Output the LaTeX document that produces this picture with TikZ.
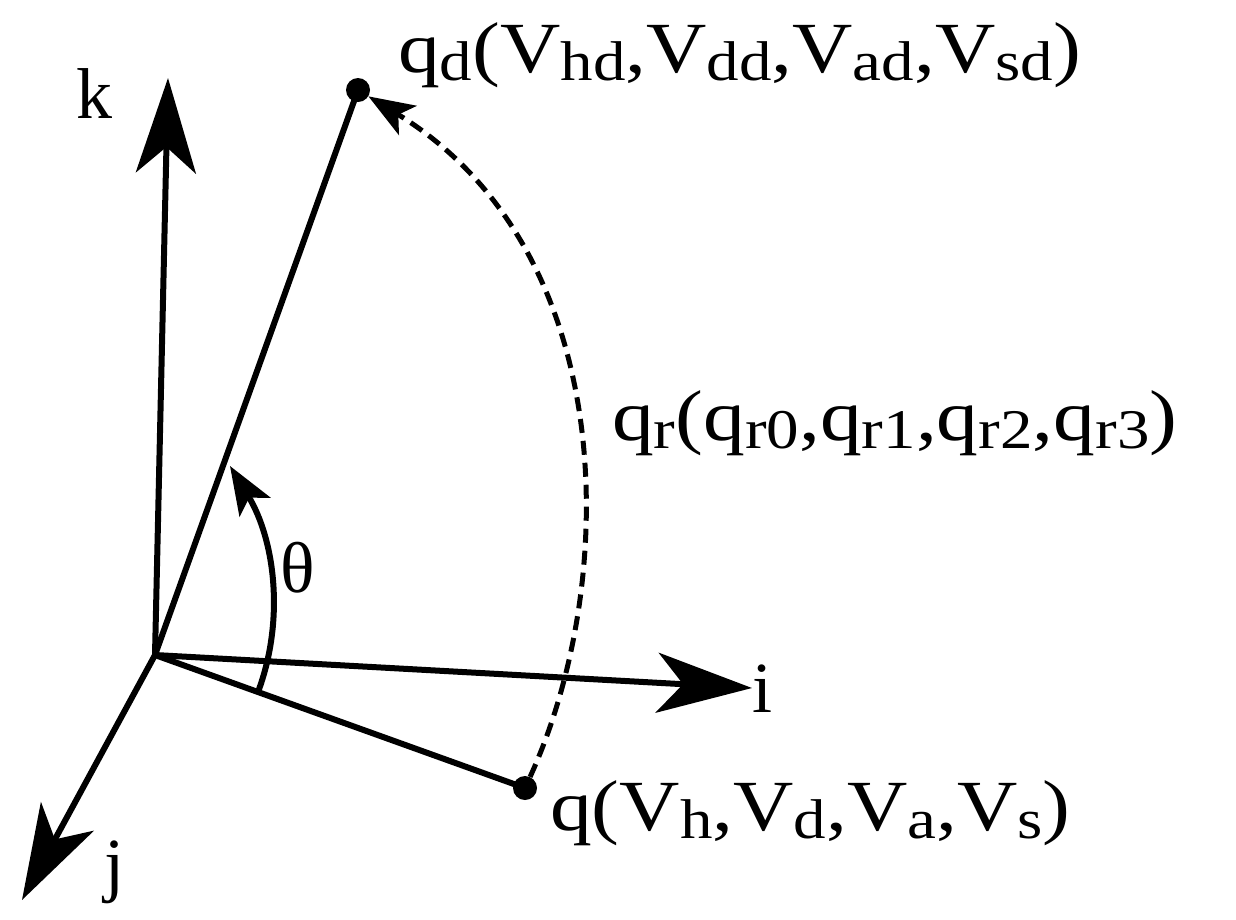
\documentclass[tikz,border=0pt]{standalone}
\usepackage{fontspec}
\setmainfont{Liberation Serif}
\usetikzlibrary{arrows.meta}
\newcommand{\lsub}[1]{\raisebox{-8pt}{\fontsize{56}{56}\selectfont #1}}
\begin{document}
\begin{tikzpicture}[x=1pt,y=-1pt,
  ax/.style={line width=6pt,-{Stealth[length=95pt,width=60pt,inset=26pt]}},
  ln/.style={line width=6pt},
  lbl/.style={inner sep=0pt,font=\fontsize{72}{72}\selectfont},
  pt/.style={circle,fill=black,inner sep=0pt,minimum size=24pt}]
\useasboundingbox (0,0) rectangle (1236,919);
\coordinate (O) at (155,655);
\coordinate (K) at (168,78);
\coordinate (I) at (752,688);
\coordinate (J) at (22,900);
\node[pt] (qd) at (358,90) {};
\node[pt] (q) at (525,788) {};
\draw[ax] (O) -- (K);
\draw[ax] (O) -- (I);
\draw[ax] (O) -- (J);
\draw[ln] (O) -- (qd.center);
\draw[ln] (O) -- (q.center);
\draw[line width=5pt,dash pattern=on 14pt off 8pt,-{Stealth[length=46pt,width=34pt,inset=11pt]}]
  (q) .. controls (620,580) and (620,250) .. (qd);
\draw[line width=6pt,-{Stealth[length=48pt,width=36pt,inset=11pt]}]
  (258,692) .. controls (285,620) and (275,540) .. (230,466);
\node[lbl,anchor=base west] (kl) at (76,118) {k};
\node[lbl,anchor=base west] (il) at (752,712) {i};
\node[lbl,anchor=base west] (jl) at (104,888) {j};
\node[lbl,anchor=base west] (th) at (280,592) {θ};
\node[lbl,anchor=base west] (tqd) at (398,72) {\scalebox{1.16}[1]{q\lsub{d}(V\lsub{hd},V\lsub{dd},V\lsub{ad},V\lsub{sd})}};
\node[lbl,anchor=base west] (tqr) at (612,440) {\scalebox{1.16}[1]{q\lsub{r}(q\lsub{r0},q\lsub{r1},q\lsub{r2},q\lsub{r3})}};
\node[lbl,anchor=base west] (tq) at (550,830) {\scalebox{1.16}[1]{q(V\lsub{h},V\lsub{d},V\lsub{a},V\lsub{s})}};
\end{tikzpicture}
\end{document}
